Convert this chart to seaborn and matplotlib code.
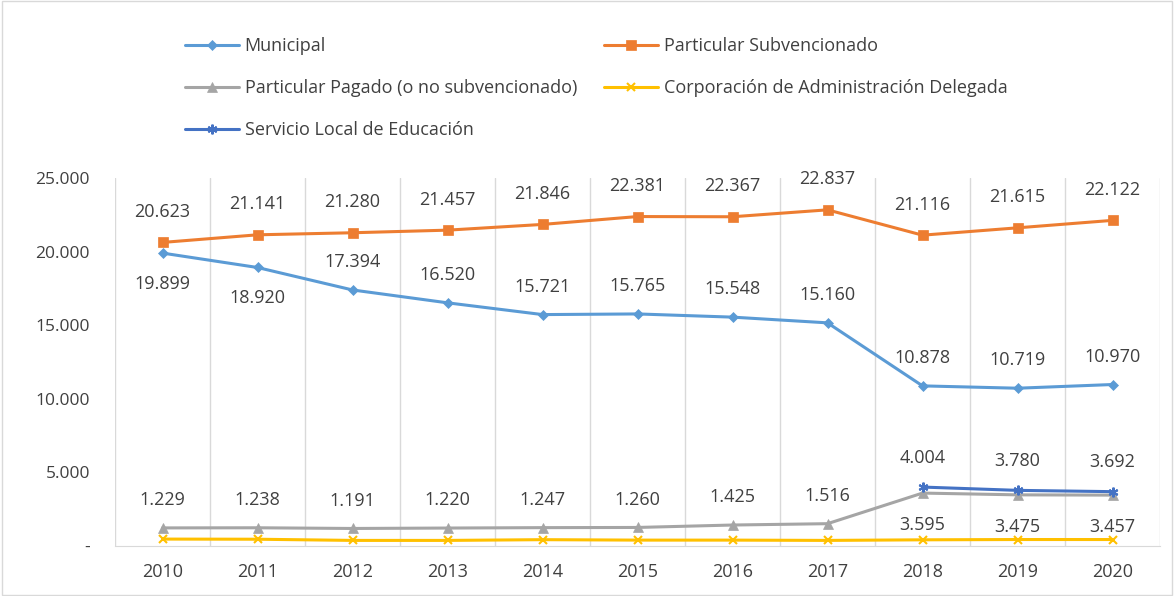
import numpy as np
import pandas as pd
import matplotlib
matplotlib.use("Agg")
import matplotlib.pyplot as plt
from matplotlib.patches import Rectangle
from matplotlib.lines import Line2D
import seaborn as sns

# Datos
years = [2010, 2011, 2012, 2013, 2014, 2015, 2016, 2017, 2018, 2019, 2020]
municipal = [19899, 18920, 17394, 16520, 15721, 15765, 15548, 15160, 10878, 10719, 10970]
part_subv = [20623, 21141, 21280, 21457, 21846, 22381, 22367, 22837, 21116, 21615, 22122]
part_pagado = [1229, 1238, 1191, 1220, 1247, 1260, 1425, 1516, 3595, 3475, 3457]
corp_admin = [470, 460, 380, 380, 430, 400, 400, 380, 420, 440, 440]
serv_local = [np.nan] * 8 + [4004, 3780, 3692]

y_ticks = [0, 5000, 10000, 15000, 20000, 25000]
y_tick_labels = ["-", "5.000", "10.000", "15.000", "20.000", "25.000"]

names = ["Municipal", "Particular Subvencionado", "Particular Pagado (o no subvencionado)",
         "Corporación de Administración Delegada", "Servicio Local de Educación"]
series = [municipal, part_subv, part_pagado, corp_admin, serv_local]
colors = ["#5B9BD5", "#ED7D31", "#A5A5A5", "#FFC000", "#4472C4"]
markers = ["D", "s", "^", "x", (6, 2, 0)]
msizes = [5.5, 7, 7, 6, 7]

def fmt(v):
    return f"{v:,.0f}".replace(",", ".")

sns.set_style("white")
plt.rcParams["font.family"] = ["Open Sans", "DejaVu Sans"]

fig = plt.figure(figsize=(11.74, 5.96), dpi=100)
ax = fig.add_axes([115 / 1174, 50 / 596, 1045 / 1174, 368 / 596])

handles = []
for name, vals, c, m, ms in zip(names, series, colors, markers, msizes):
    df = pd.DataFrame({"year": years, "value": vals}).dropna()
    mew = 1.5 if m in ("x", (6, 2, 0)) else 0.5
    sns.lineplot(data=df, x="year", y="value", ax=ax, color=c, lw=2.2,
                 marker=m, markersize=ms, markeredgecolor=c, markeredgewidth=mew)
    handles.append(Line2D([], [], color=c, lw=2.2, marker=m, markersize=ms,
                          markeredgecolor=c, markeredgewidth=mew))

# etiquetas de datos
def label(vals, offsets):
    for x, v, off in zip(years, vals, offsets):
        if np.isnan(v):
            continue
        ax.annotate(fmt(v), (x, v), xytext=(0, off), textcoords="offset points",
                    ha="center", va="center", fontsize=13, color="#404040")

label(part_subv, [22] * 11)
label(municipal, [-22, -22] + [20] * 9)
label(part_pagado, [20] * 8 + [-23] * 3)
label(serv_local, [21] * 11)

ax.set_xlim(2009.5, 2020.5)
ax.set_ylim(0, 25000)
ax.set_xticks(years)
ax.set_xticklabels([str(y) for y in years], fontsize=13, color="#404040")
ax.set_yticks(y_ticks)
ax.set_yticklabels(y_tick_labels, fontsize=12.5, color="#404040")
ax.tick_params(axis="x", length=0, pad=12)
ax.tick_params(axis="y", length=0, pad=18)
ax.set_xlabel("")
ax.set_ylabel("")

for b in np.arange(2009.5, 2021.0, 1.0):
    ax.axvline(b, color="#D9D9D9", lw=1, zorder=0)
for s in ["top", "right", "left"]:
    ax.spines[s].set_visible(False)
ax.spines["bottom"].set_color("#D9D9D9")

order = [0, 2, 4, 1, 3]
fig.legend([handles[i] for i in order], [names[i] for i in order], ncol=2,
           loc="upper left", bbox_to_anchor=(185 / 1174, 1 - 37 / 596), frameon=False,
           borderpad=0, borderaxespad=0,
           fontsize=13, handlelength=3.0, handletextpad=0.3, columnspacing=1.5,
           labelspacing=1.33, labelcolor="#404040")

fig.patches.append(Rectangle((0.002, 0.002), 0.996, 0.996, transform=fig.transFigure,
                             fill=False, edgecolor="#D9D9D9", lw=1))

fig.savefig("out.png", dpi=100)
